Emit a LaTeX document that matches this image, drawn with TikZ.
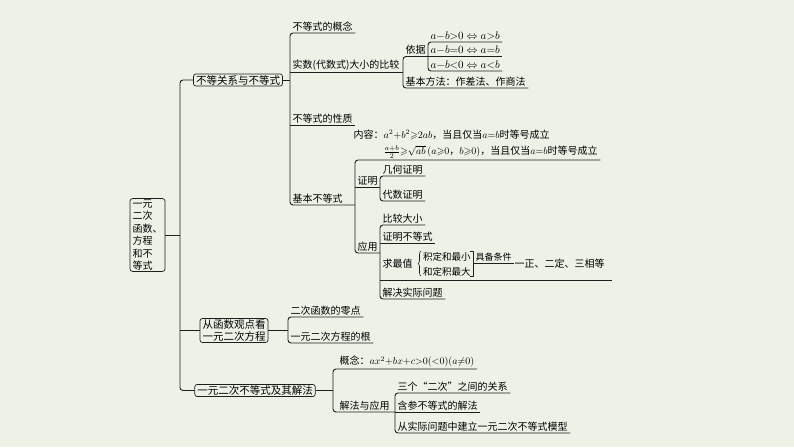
\documentclass[tikz,border=0pt]{standalone}
\usepackage{amsmath,amssymb}
\usepackage{fontspec}
\setmainfont{Noto Sans CJK SC}
\usetikzlibrary{decorations.pathreplacing}
\definecolor{bgc}{RGB}{237,242,231}
\definecolor{lnc}{RGB}{30,30,30}
\tikzset{
  leaf/.style={anchor=south west,inner xsep=2.5pt,inner ysep=1.5pt,font=\fontsize{10}{12}\selectfont},
  topic/.style={draw=lnc,line width=0.7pt,rounded corners=2.5pt,inner xsep=2.5pt,inner ysep=1.2pt,font=\fontsize{10.5}{12.5}\selectfont},
  bline/.style={draw=lnc,line width=0.9pt,rounded corners=3pt},
}
\begin{document}
\begin{tikzpicture}[x=1pt,y=-1pt,line join=round]
\fill[bgc] (0,0) rectangle (794,447);
\useasboundingbox (0,0) rectangle (794,447);
\coordinate (tk) at (180,0);
% main topics
\node[topic,align=left,font=\fontsize{10}{12.4}\selectfont] (rt) at (147.5,235) {一元\\二次\\函数、\\方程\\和不\\等式};
\node[topic] (bd) at (238,80) {不等关系与不等式};
\node[topic,align=center,font=\fontsize{10.5}{12}\selectfont] (bh) at (234,330.5) {从函数观点看\\一元二次方程};
\node[topic] (bj) at (255,390.5) {一元二次不等式及其解法};
\draw[bline] (bd.west) -- (bd.west -| tk) -- (bj.west -| tk) -- (bj.west);
\draw[bline] (rt.east) -- (rt.east -| tk);
\draw[bline] (bh.west) -- (bh.west -| tk);
% 不等关系与不等式
\node[leaf] (gn) at (290,33) {不等式的概念};
\node[leaf] (ss) at (290,72) {实数(代数式)大小的比较};
\node[leaf] (xz) at (290,125) {不等式的性质};
\node[leaf] (jb) at (290,205) {基本不等式};
\draw[bline] (gn.south east) -- (gn.south west) -- (jb.south west) -- (355,205);
\draw[bline] (bd.east) -- (bd.east -| gn.south west);
\draw[bline] (ss.south west) -- (403,72);
\draw[bline] (xz.south west) -- (xz.south east);
\node[leaf] (yj) at (403,56.5) {依据};
\node[leaf] (ff) at (403,88) {基本方法：作差法、作商法};
\node[leaf,font=\fontsize{10.5}{12}\selectfont] (f1) at (428,42) {$a{-}b{>}0\Leftrightarrow a{>}b$};
\node[leaf,font=\fontsize{10.5}{12}\selectfont] (f2) at (428,56.5) {$a{-}b{=}0\Leftrightarrow a{=}b$};
\node[leaf,font=\fontsize{10.5}{12}\selectfont] (f3) at (428,71) {$a{-}b{<}0\Leftrightarrow a{<}b$};
\draw[bline] (yj.south east) -- (yj.south west) -- (ff.south west) -- (ff.south east);
\draw[bline] (f1.south east) -- (f1.south west) -- (f3.south west) -- (f3.south east);
\draw[bline] (f2.south west) -- (f2.south east);
% 基本不等式
\node[leaf,align=left] (nr) at (351,160) {内容：$a^2{+}b^2{\geqslant}2ab$，当且仅当$a{=}b$时等号成立\\[4.5pt]\hspace*{3em}$\frac{a+b}{2}{\geqslant}\sqrt{ab}\,(a{\geqslant}0$，$b{\geqslant}0)$，当且仅当$a{=}b$时等号成立};
\node[leaf] (zm) at (355,187) {证明};
\node[leaf] (yy) at (355,253) {应用};
\draw[bline] (nr.south east) -- (355,160) -- (yy.south west) -- (yy.south east);
\draw[bline] (zm.south west) -- (zm.south east);
\node[leaf] (jh) at (380,176) {几何证明};
\node[leaf] (ds) at (380,201) {代数证明};
\draw[bline] (jh.south east) -- (jh.south west) -- (ds.south west) -- (ds.south east);
\node[leaf] (bx) at (380,225) {比较大小};
\node[leaf] (zb) at (380,243) {证明不等式};
\node[leaf,anchor=west] (qz) at (380,264) {求最值};
\node[leaf] (sj) at (380,299) {解决实际问题};
\coordinate (qe) at (612,280);
\draw[bline] (bx.south east) -- (bx.south west) -- (sj.south west) -- (sj.south east);
\draw[bline] (zb.south west) -- (zb.south east);
\draw[bline] (qz.west |- qe) -- (qe);
\node[leaf,anchor=west,inner xsep=1pt,font=\fontsize{9.5}{11}\selectfont] (jd1) at (422,257) {积定和最小};
\node[leaf,anchor=west,inner xsep=1pt,font=\fontsize{9.5}{11}\selectfont] (jd2) at (422,272) {和定积最大};
\draw[lnc,line width=0.6pt,decorate,decoration={brace,amplitude=3pt}] (421,276) -- (421,251);
\draw[lnc,line width=0.7pt] (470,251) -- (473,251) -- (473,276) -- (470,276);
\node[leaf,font=\fontsize{9}{11}\selectfont] (jt) at (473,263) {具备条件};
\draw[bline] (jt.south west) -- (jt.south east);
\node[leaf,anchor=west] (yz) at (512,264) {一正、二定、三相等};
% 从函数观点看一元二次方程
\node[leaf] (lz) at (288,317) {二次函数的零点};
\node[leaf] (gen) at (288,343) {一元二次方程的根};
\draw[bline] (lz.south east) -- (lz.south west) -- (gen.south west) -- (gen.south east);
\draw[bline] (bh.east) -- (bh.east -| lz.south west);
% 一元二次不等式及其解法
\node[leaf,xshift=4pt] (gl) at (333,369) {概念：{\fontsize{9.8}{11}\selectfont$ax^2{+}bx{+}c{>}0({<}0)(a{\neq}0)$}};
\node[leaf,xshift=4pt] (jf) at (333,412) {解法与应用};
\draw[bline] (gl.south east) -- (333,369) -- (333,412) -- (395,412);
\draw[bline] (bj.east) -- (333,390.5);
\node[leaf] (sg) at (395,393) {三个“二次”之间的关系};
\node[leaf] (hc) at (395,412) {含参不等式的解法};
\node[leaf] (cs) at (395,433) {从实际问题中建立一元二次不等式模型};
\draw[bline] (sg.south east) -- (sg.south west) -- (cs.south west) -- (cs.south east);
\draw[bline] (hc.south west) -- (hc.south east);
\end{tikzpicture}
\end{document}
